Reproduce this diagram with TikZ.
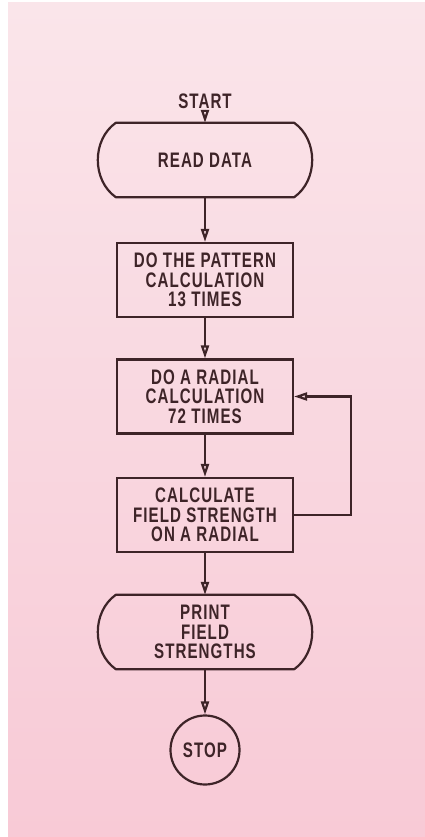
\documentclass[tikz,border=0pt]{standalone}
\usepackage{fontspec}
\setmainfont{Liberation Sans}[FakeStretch=0.72,LetterSpace=5]
\usetikzlibrary{arrows.meta,shapes.geometric}
\definecolor{ink}{HTML}{3E2428}
\definecolor{bgtop}{HTML}{FAE5EA}
\definecolor{bgbot}{HTML}{F8CAD6}
\begin{document}
\begin{tikzpicture}[x=1pt,y=-1pt,
  every node/.style={font=\fontsize{21}{19.7}\selectfont\bfseries, text=ink, align=center},
  procbox/.style={draw=ink, line width=2.2pt, minimum width=176pt, minimum height=74pt, inner sep=0pt},
  termbox/.style={minimum width=178pt, minimum height=74pt, inner sep=0pt},
  stopcirc/.style={draw=ink, circle, line width=2.2pt, minimum size=69pt, inner sep=0pt},
  flow/.style={draw=ink, line width=2.2pt, -{Triangle[open,length=13pt,width=8pt]}},
  termline/.style={draw=ink, line width=2.2pt, line join=round}]
\useasboundingbox (0,0) rectangle (425,837);
\fill[white] (0,0) rectangle (425,837);
\shade[top color=bgtop, bottom color=bgbot] (8,3) rectangle (425,836);

\node[inner sep=1pt] (start) at (205,101) {START};
\node[termbox] (rd) at (205,160) {READ DATA};
\node[procbox] (pat) at (205,280) {DO THE PATTERN\\CALCULATION\\13 TIMES};
\node[procbox] (rad) at (205,396.5) {DO A RADIAL\\CALCULATION\\72 TIMES};
\node[procbox] (cs) at (205,515) {CALCULATE\\FIELD STRENGTH\\ON A RADIAL};
\node[termbox] (pr) at (205,632) {PRINT\\FIELD\\STRENGTHS};
\node[stopcirc] (stop) at (205,750) {STOP};

\foreach \t in {rd,pr}{
  \draw[termline] (\t.north west) -- (\t.north east)
     .. controls +(24,17) and +(24,-17) .. (\t.south east)
     -- (\t.south west)
     .. controls +(-24,-17) and +(-24,17) .. (\t.north west) -- cycle;
}

\draw[flow] (start) -- (rd.north);
\draw[flow] (rd.south) -- (pat.north);
\draw[flow] (pat.south) -- (rad.north);
\draw[flow] (rad.south) -- (cs.north);
\draw[flow] (cs.south) -- (pr.north);
\draw[flow] (pr.south) -- (stop.north);
\draw[flow] (cs.east) -- ++(57,0) |- (rad.east);
\end{tikzpicture}
\end{document}
